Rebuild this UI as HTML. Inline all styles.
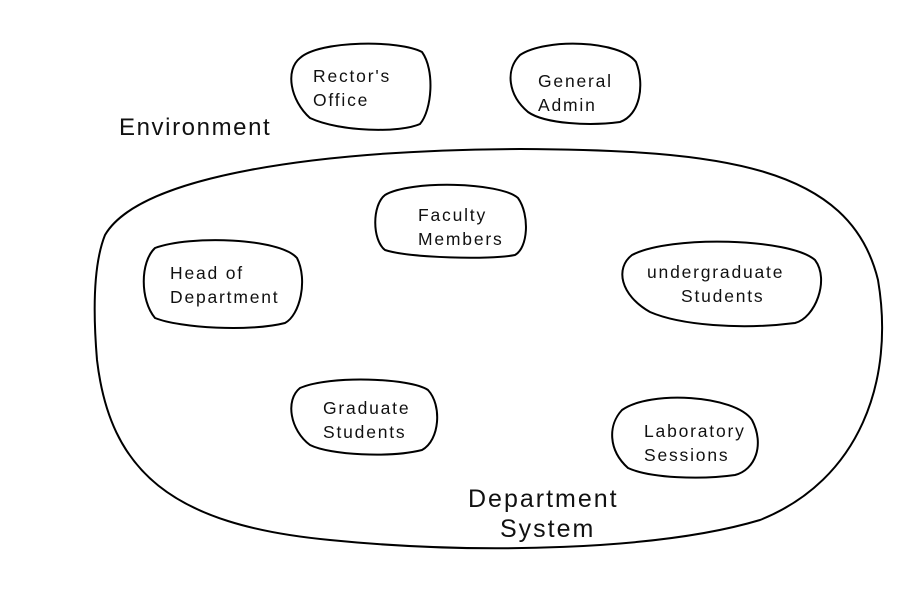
<!DOCTYPE html>
<html><head><style>body{margin:0;background:#fff}svg{display:block}text{font-family:"Liberation Sans",sans-serif;fill:#111}</style></head>
<body>
<svg width="900" height="600" viewBox="0 0 900 600" xmlns="http://www.w3.org/2000/svg">
<g fill="none" stroke="#000" stroke-width="2">
<path d="M105,235 C140,175 320,150 520,149 C720,150 850,165 878,280 C895,380 860,480 760,520 C660,550 480,555 330,540 C170,525 110,470 97,360 C92,300 95,260 105,235 Z"/>
<path d="M300,58 C320,40 400,40 422,52 C435,70 432,110 420,124 C400,133 340,132 310,118 C290,100 285,70 300,58 Z"/>
<path d="M520,55 C545,38 620,40 636,62 C645,85 640,115 620,122 C590,126 545,124 528,112 C508,95 505,70 520,55 Z"/>
<path d="M385,195 C410,180 500,182 518,198 C530,215 528,248 515,255 C490,260 410,258 385,250 C372,240 372,205 385,195 Z"/>
<path d="M155,248 C190,235 280,238 297,258 C308,280 300,315 285,323 C250,332 180,328 155,318 C140,300 140,262 155,248 Z"/>
<path d="M632,255 C670,235 790,238 815,260 C830,280 815,318 795,323 C740,330 680,325 650,312 C620,295 615,268 632,255 Z"/>
<path d="M300,388 C330,375 410,378 428,390 C442,405 440,440 422,450 C390,458 330,455 310,445 C290,430 285,400 300,388 Z"/>
<path d="M622,410 C650,390 735,395 752,420 C765,445 755,470 735,475 C700,480 650,478 628,468 C608,450 608,425 622,410 Z"/>
</g>
<g font-size="17.5" letter-spacing="1.8">
<text x="313" y="82">Rector's</text><text x="313" y="106">Office</text>
<text x="538" y="87">General</text><text x="538" y="111">Admin</text>
<text x="418" y="221">Faculty</text><text x="418" y="245">Members</text>
<text x="170" y="279">Head of</text><text x="170" y="303">Department</text>
<text x="647" y="278">undergraduate</text><text x="681" y="302">Students</text>
<text x="323" y="414">Graduate</text><text x="323" y="438">Students</text>
<text x="644" y="437">Laboratory</text><text x="644" y="461">Sessions</text>
</g>
<text x="119" y="135" font-size="24" letter-spacing="1.6">Environment</text>
<text x="468" y="507" font-size="25" letter-spacing="2">Department</text>
<text x="500" y="537" font-size="25" letter-spacing="2">System</text>
</svg>
</body></html>
